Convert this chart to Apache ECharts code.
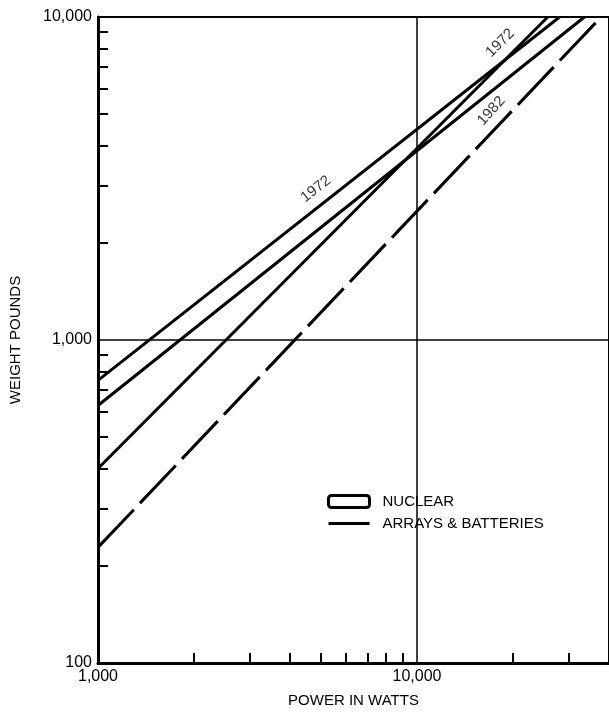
<!DOCTYPE html>
<html>
<head>
<meta charset="utf-8">
<script src="https://cdn.jsdelivr.net/npm/echarts@6/dist/echarts.min.js"></script>
<style>
html,body{margin:0;padding:0;background:#fff;}
#chart{width:609px;height:713px;}
</style>
</head>
<body>
<div id="chart"></div>
<script>
// ---- data ----
const xTickValues = [1000, 10000];
const xTickLabels = ['1,000', '10,000'];
const yTickValues = [100, 1000, 10000];
const yTickLabels = ['100', '1,000', '10,000'];
const xMinorTicks = [2000, 3000, 4000, 5000, 6000, 7000, 8000, 9000, 20000, 30000];
const yMinorTicks = [200, 300, 400, 500, 600, 700, 800, 900, 2000, 3000, 4000, 5000, 6000, 7000, 8000, 9000];

// power (W) -> weight (lb)
const nuclear1972X = [1000, 28000];
const nuclear1972Y = [750, 10000];
const nuclear1982X = [1000, 33500];
const nuclear1982Y = [627, 10000];
const arrays1972X = [1000, 25700];
const arrays1972Y = [400, 10000];
const arrays1982X = [1000, 37800];
const arrays1982Y = [228, 10000];

const yearLabels = ['1972', '1972', '1982'];
const yearLabelX = [4820, 18240, 17100];
const yearLabelY = [2930, 8310, 5120];
const yearLabelAngle = [38, 45, 48];

const FONT = 'Liberation Sans';
const pairs = (xs, ys) => xs.map((x, i) => [x, ys[i]]);
const fmt = (arrV, arrL) => v => { const i = arrV.findIndex(t => Math.abs(t - v) / t < 1e-6); return i >= 0 ? arrL[i] : ''; };

const chart = echarts.init(document.getElementById('chart'), null, {renderer: 'canvas'});
const lineStyleSolid = {color: '#000', width: 3, type: 'solid', cap: 'butt'};

chart.setOption({
  animation: false,
  backgroundColor: '#fff',
  textStyle: {fontFamily: FONT, color: '#000'},
  grid: {left: 97, top: 17, width: 516, height: 646, show: true, borderColor: '#000', borderWidth: 2, backgroundColor: 'transparent'},
  legend: {
    orient: 'vertical', left: 317, top: 484, padding: [10, 10, 10, 10],
    backgroundColor: '#fff', itemWidth: 41, itemHeight: 12, itemGap: 7, symbolKeepAspect: true,
    textStyle: {fontFamily: FONT, fontSize: 15, color: '#000', lineHeight: 15, padding: [0, 0, 0, 8]},
    data: [
      {name: 'NUCLEAR', icon: 'roundRect', itemStyle: {color: '#fff', borderColor: '#000', borderWidth: 3}},
      {name: 'ARRAYS & BATTERIES', icon: 'path://M0 0H41V3H0Z', itemStyle: {color: '#000', borderWidth: 0}}
    ],
    selectedMode: false
  },
  xAxis: {
    type: 'log', logBase: 10, min: 1000, max: 40000,
    name: 'POWER IN WATTS', nameLocation: 'middle', nameGap: 30,
    nameTextStyle: {fontFamily: FONT, fontSize: 15, color: '#000'},
    axisLine: {onZero: false, lineStyle: {color: '#000', width: 3}},
    axisTick: {show: true, inside: true, length: 10, lineStyle: {color: '#000', width: 2}, customValues: xMinorTicks},
    axisLabel: {customValues: xTickValues, formatter: fmt(xTickValues, xTickLabels), fontFamily: FONT, fontSize: 16, color: '#000', margin: 6},
    splitLine: {show: false}, minorTick: {show: false}
  },
  yAxis: {
    type: 'log', logBase: 10, min: 100, max: 10000,
    name: 'WEIGHT POUNDS', nameLocation: 'middle', nameGap: 75, nameRotate: 90,
    nameTextStyle: {fontFamily: FONT, fontSize: 15, color: '#000'},
    axisLine: {onZero: false, lineStyle: {color: '#000', width: 3}},
    axisTick: {show: true, inside: true, length: 10, lineStyle: {color: '#000', width: 2}, customValues: yMinorTicks},
    axisLabel: {customValues: yTickValues, formatter: fmt(yTickValues, yTickLabels), fontFamily: FONT, fontSize: 16, color: '#000', margin: 6},
    splitLine: {show: false}, minorTick: {show: false}
  },
  series: [
    {
      name: 'NUCLEAR', type: 'line', symbol: 'none', data: pairs(nuclear1972X, nuclear1972Y), lineStyle: lineStyleSolid, itemStyle: {color: '#000'},
      markLine: {silent: true, symbol: 'none', label: {show: false}, lineStyle: {color: '#000', width: 1.5, type: 'solid'},
        data: [{xAxis: xTickValues[1]}, {yAxis: yTickValues[1]}]}
    },
    {name: 'NUCLEAR', type: 'line', symbol: 'none', data: pairs(nuclear1982X, nuclear1982Y), lineStyle: lineStyleSolid, itemStyle: {color: '#000'}},
    {name: 'ARRAYS & BATTERIES', type: 'line', symbol: 'none', data: pairs(arrays1972X, arrays1972Y), lineStyle: lineStyleSolid, itemStyle: {color: '#000'}},
    {name: 'ARRAYS & BATTERIES', type: 'line', symbol: 'none', data: pairs(arrays1982X, arrays1982Y), itemStyle: {color: '#000'},
      lineStyle: {color: '#000', width: 3, type: [52, 9], cap: 'butt'}},
    {
      name: 'year labels', type: 'scatter', symbolSize: 0, silent: true,
      data: yearLabels.map((t, i) => ({value: [yearLabelX[i], yearLabelY[i]], name: t,
        label: {show: true, position: 'inside', formatter: t, rotate: yearLabelAngle[i], fontFamily: FONT, fontSize: 15, color: '#000'}}))
    }
  ]
});
</script>
</body>
</html>
